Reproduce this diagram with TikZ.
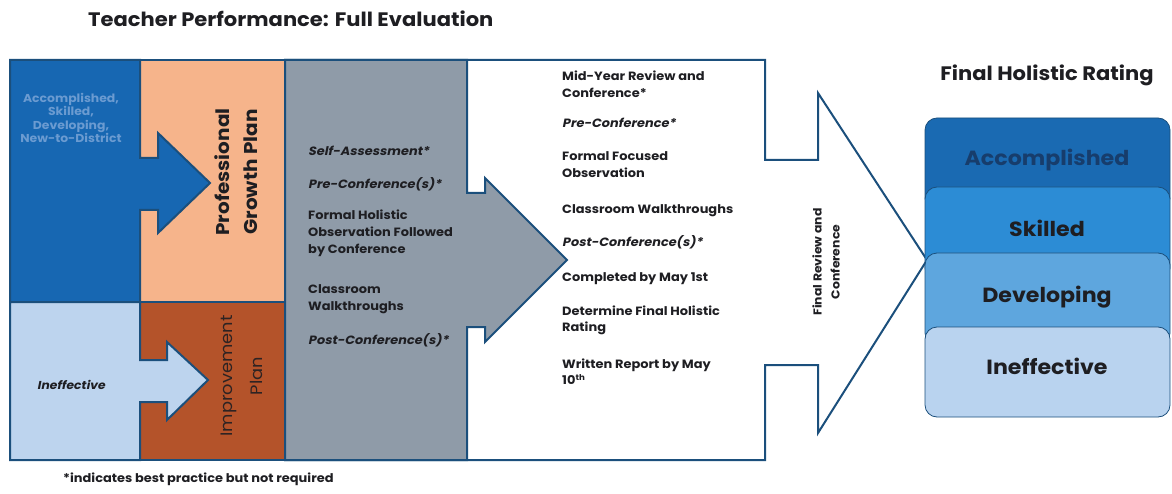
\documentclass[tikz,border=0pt]{standalone}
\usepackage{fontspec}
\IfFontExistsTF{Poppins Bold}
  {\setmainfont{Poppins}[FakeStretch=1.08, BoldFont={Poppins Bold}, ItalicFont={Poppins}, ItalicFeatures={FakeSlant=0.2}, BoldItalicFont={Poppins Bold}, BoldItalicFeatures={FakeSlant=0.2}]}
  {\setmainfont{Poppins}[FakeStretch=1.08, AutoFakeBold=2, AutoFakeSlant=0.2]}
\newcommand\mylines[1]{\begin{tabular}[t]{@{}l@{}}#1\end{tabular}}
\definecolor{navy}{HTML}{1B4F7C}
\definecolor{bblue}{HTML}{1767B2}
\definecolor{peach}{HTML}{F6B48B}
\definecolor{brick}{HTML}{B4532A}
\definecolor{lblue}{HTML}{BDD4EE}
\definecolor{gcol}{HTML}{8F9BA8}
\definecolor{acc}{HTML}{1A6AB2}
\definecolor{skl}{HTML}{2C8CD5}
\definecolor{dev}{HTML}{5EA6DE}
\definecolor{ineff}{HTML}{B9D3EF}
\definecolor{ink}{HTML}{1E1E22}
\definecolor{blutext}{HTML}{6B9BD1}
\definecolor{acctext}{HTML}{173D6C}
\begin{document}
\begin{tikzpicture}[x=1pt,y=-1pt,
  panel/.style={draw=navy,line width=2pt,line join=miter},
  rating/.style={draw=navy,line width=0.8pt,rounded corners=12pt},
  ratetext/.style={font=\bfseries\fontsize{20.5}{20.5}\selectfont,text=ink},
  item/.style={anchor=base west,inner sep=0pt,font=\bfseries\fontsize{12}{16.8}\selectfont,text=ink},
  itemit/.style={item,font=\bfseries\itshape\fontsize{12}{16.8}\selectfont}]
\useasboundingbox (0,0) rectangle (1172,494);
% title
\node[anchor=base west,inner sep=0pt,font=\bfseries\fontsize{19.5}{19.5}\selectfont,text=ink] (title) at (88,27) {Teacher Performance: Full Evaluation};
% white arrow (behind)
\draw[panel,fill=white] (285,60) -- (765,60) -- (765,160) -- (818,160) -- (818,93) -- (927,260) -- (818,433) -- (818,365) -- (765,365) -- (765,460) -- (285,460) -- cycle;
% orange and brick columns
\draw[panel,fill=peach] (140,60) rectangle (285,302);
\draw[panel,fill=brick] (140,302) rectangle (285,460);
% blue arrow
\draw[panel,fill=bblue] (10,60) -- (140,60) -- (140,158) -- (158,158) -- (158,133) -- (210,183) -- (158,233) -- (158,210) -- (140,210) -- (140,302) -- (10,302) -- cycle;
% light blue arrow
\draw[panel,fill=lblue] (10,302) -- (140,302) -- (140,360) -- (167,360) -- (167,342) -- (208,380) -- (167,420) -- (167,402) -- (140,402) -- (140,460) -- (10,460) -- cycle;
% gray arrow
\draw[panel,fill=gcol] (285,60) -- (467,60) -- (467,193) -- (485,193) -- (485,178) -- (567,260) -- (485,342) -- (485,327) -- (467,327) -- (467,460) -- (285,460) -- cycle;
% left labels
\node[align=center,inner sep=0pt,font=\bfseries\fontsize{11.5}{13.3}\selectfont,text=blutext] (grp) at (71,118) {Accomplished,\\Skilled,\\Developing,\\New-to-District};
\node[anchor=west,inner sep=0pt,font=\bfseries\itshape\fontsize{11.5}{12}\selectfont,text=ink] (ineffl) at (37,385) {Ineffective};
\node[rotate=90,align=center,inner sep=0pt,font=\bfseries\fontsize{18.5}{28}\selectfont,text=ink] (pgp) at (236,172) {Professional\\Growth Plan};
\node[rotate=90,align=center,inner sep=0pt,font=\fontsize{16.5}{30}\selectfont,text=ink!90!brick] (ip) at (242,376) {Improvement\\Plan};
% gray column items
\node[itemit] (g1) at (308,156) {Self-Assessment*};
\node[itemit] (g2) at (308,189) {Pre-Conference(s)*};
\node[item] (g3) at (308,220) {\mylines{Formal Holistic\\Observation Followed\\by Conference}};
\node[item] (g4) at (308,294) {\mylines{Classroom\\Walkthroughs}};
\node[itemit] (g5) at (308,344) {Post-Conference(s)*};
% white column items
\node[item] (w1) at (562,81) {\mylines{Mid-Year Review and\\Conference*}};
\node[itemit] (w2) at (562,128) {Pre-Conference*};
\node[item] (w3) at (562,161) {\mylines{Formal Focused\\Observation}};
\node[item] (w4) at (562,214) {Classroom Walkthroughs};
\node[itemit] (w5) at (562,247) {Post-Conference(s)*};
\node[item] (w6) at (562,281) {Completed by May 1st};
\node[item] (w7) at (562,315) {\mylines{Determine Final Holistic\\Rating}};
\node[item] (w8) at (562,368) {\mylines{Written Report by May\\10\textsuperscript{th}}};
\node[rotate=90,align=center,inner sep=0pt,font=\bfseries\fontsize{11.5}{18}\selectfont,text=ink] (frc) at (826,262) {Final Review and\\Conference};
% right stack
\node[anchor=base,inner sep=0pt,font=\bfseries\fontsize{19.5}{19.5}\selectfont,text=ink] (fhr) at (1047,81) {Final Holistic Rating};
\draw[rating,fill=acc] (925,118) rectangle (1170,210);
\draw[rating,fill=skl] (925,187) rectangle (1170,280);
\draw[rating,fill=dev] (925,253) rectangle (1170,345);
\draw[rating,fill=ineff] (925,327) rectangle (1170,417);
\node[ratetext,text=acctext] (r1) at (1047,160) {Accomplished};
\node[ratetext] (r2) at (1047,228) {Skilled};
\node[ratetext] (r3) at (1047,297) {Developing};
\node[ratetext] (r4) at (1047,366) {Ineffective};
% footnote
\node[anchor=base west,inner sep=0pt,font=\bfseries\fontsize{12}{12}\selectfont,text=ink] (fn) at (63,482) {*indicates best practice but not required};
\end{tikzpicture}
\end{document}
